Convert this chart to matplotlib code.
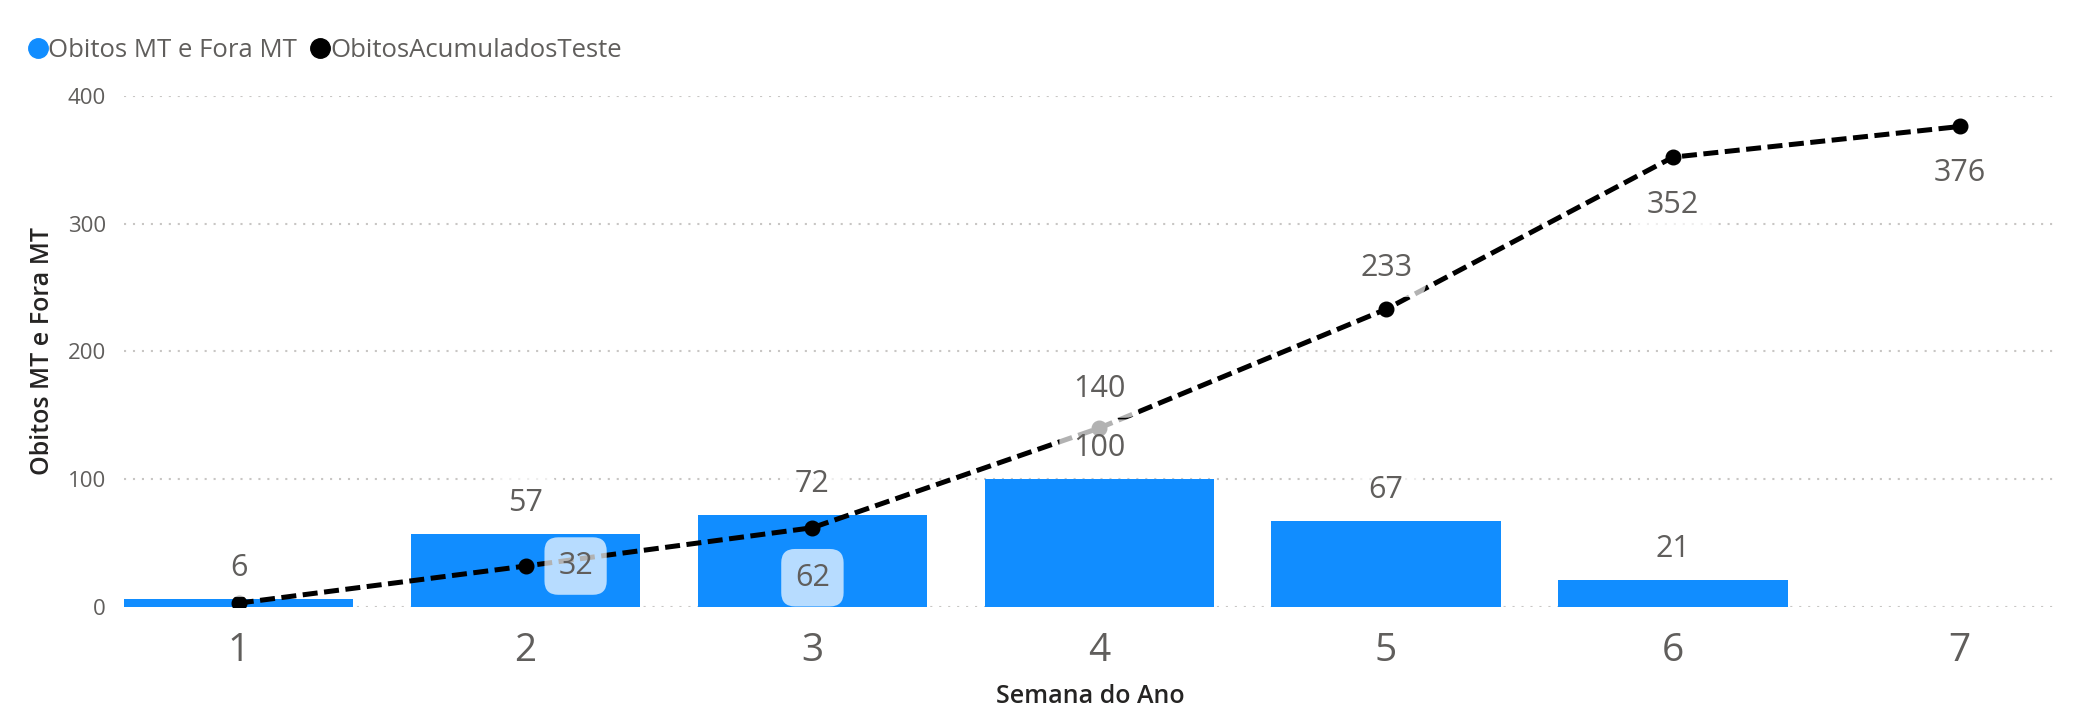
import matplotlib.pyplot as plt
from matplotlib.lines import Line2D

# dados
semanas = [1, 2, 3, 4, 5, 6, 7]
obitos = [6, 57, 72, 100, 67, 21]          # barras (semana 7 sem valor)
acumulados = [3, 32, 62, 140, 233, 352, 376]
yticks = [0, 100, 200, 300, 400]

AZUL = "#118DFF"
CINZA = "#605E5C"
FONTE = "Open Sans"

plt.rcParams["font.family"] = [FONTE, "DejaVu Sans"]

fig = plt.figure(figsize=(20.95, 7.26), dpi=100)
ax = fig.add_axes([0.0592, 0.164, 0.9228, 0.704])

ax.bar(semanas[:len(obitos)], obitos, width=0.8, color=AZUL, zorder=2)
ax.plot(semanas, acumulados, color="black", lw=3.6, ls=(0, (3, 1.3)),
        marker="o", ms=10.5, zorder=3)

caixa = dict(boxstyle="round,pad=0.45,rounding_size=0.45", fc="white", ec="none", alpha=0.7)

# rotulos das barras
for x, v in zip(semanas, obitos):
    ax.annotate(str(v), (x, v), xytext=(0, 31), textcoords="offset pixels",
                ha="center", va="center", fontsize=22, color=CINZA,
                bbox=caixa, zorder=5)

# rotulos da linha (posicao em pixels relativa ao ponto)
pos_rotulos = [None, (50, 0), (0, -50), (0, 39), (0, 41), (0, -48), (0, -47)]
for x, v, p in zip(semanas, acumulados, pos_rotulos):
    if p is None:
        continue
    ax.annotate(str(v), (x, v), xytext=p, textcoords="offset pixels",
                ha="center", va="center", fontsize=22, color=CINZA,
                bbox=caixa, zorder=5)

ax.set_xlim(0.6, 7.34)
ax.set_ylim(0, 400)
ax.set_xticks(semanas)
ax.set_yticks(yticks)
ax.tick_params(axis="x", length=0, pad=18, labelsize=28, labelcolor=CINZA)
ax.tick_params(axis="y", length=0, pad=13, labelsize=16, labelcolor=CINZA)
for s in ax.spines.values():
    s.set_visible(False)
ax.yaxis.grid(True, color="#C8C6C4", lw=1.5, ls=(0, (1, 3.3)), zorder=0)
ax.set_axisbelow(True)

ax.set_xlabel("Semana do Ano", fontsize=18, fontweight="semibold", color="#252423", labelpad=10)
ax.set_ylabel("Obitos MT e Fora MT", fontsize=18, fontweight="semibold", color="#252423", labelpad=9)

handles = [Line2D([], [], ls="none", marker="o", ms=14, color=AZUL),
           Line2D([], [], ls="none", marker="o", ms=14, color="black")]
fig.legend(handles, ["Obitos MT e Fora MT", "ObitosAcumuladosTeste"],
           loc="center left", bbox_to_anchor=(0.002, 0.930), ncol=2, frameon=False,
           fontsize=18.5, labelcolor=CINZA, handletextpad=0.0, columnspacing=0.5,
           handlelength=0.8)

fig.savefig("out.png", dpi=100, facecolor="white")
